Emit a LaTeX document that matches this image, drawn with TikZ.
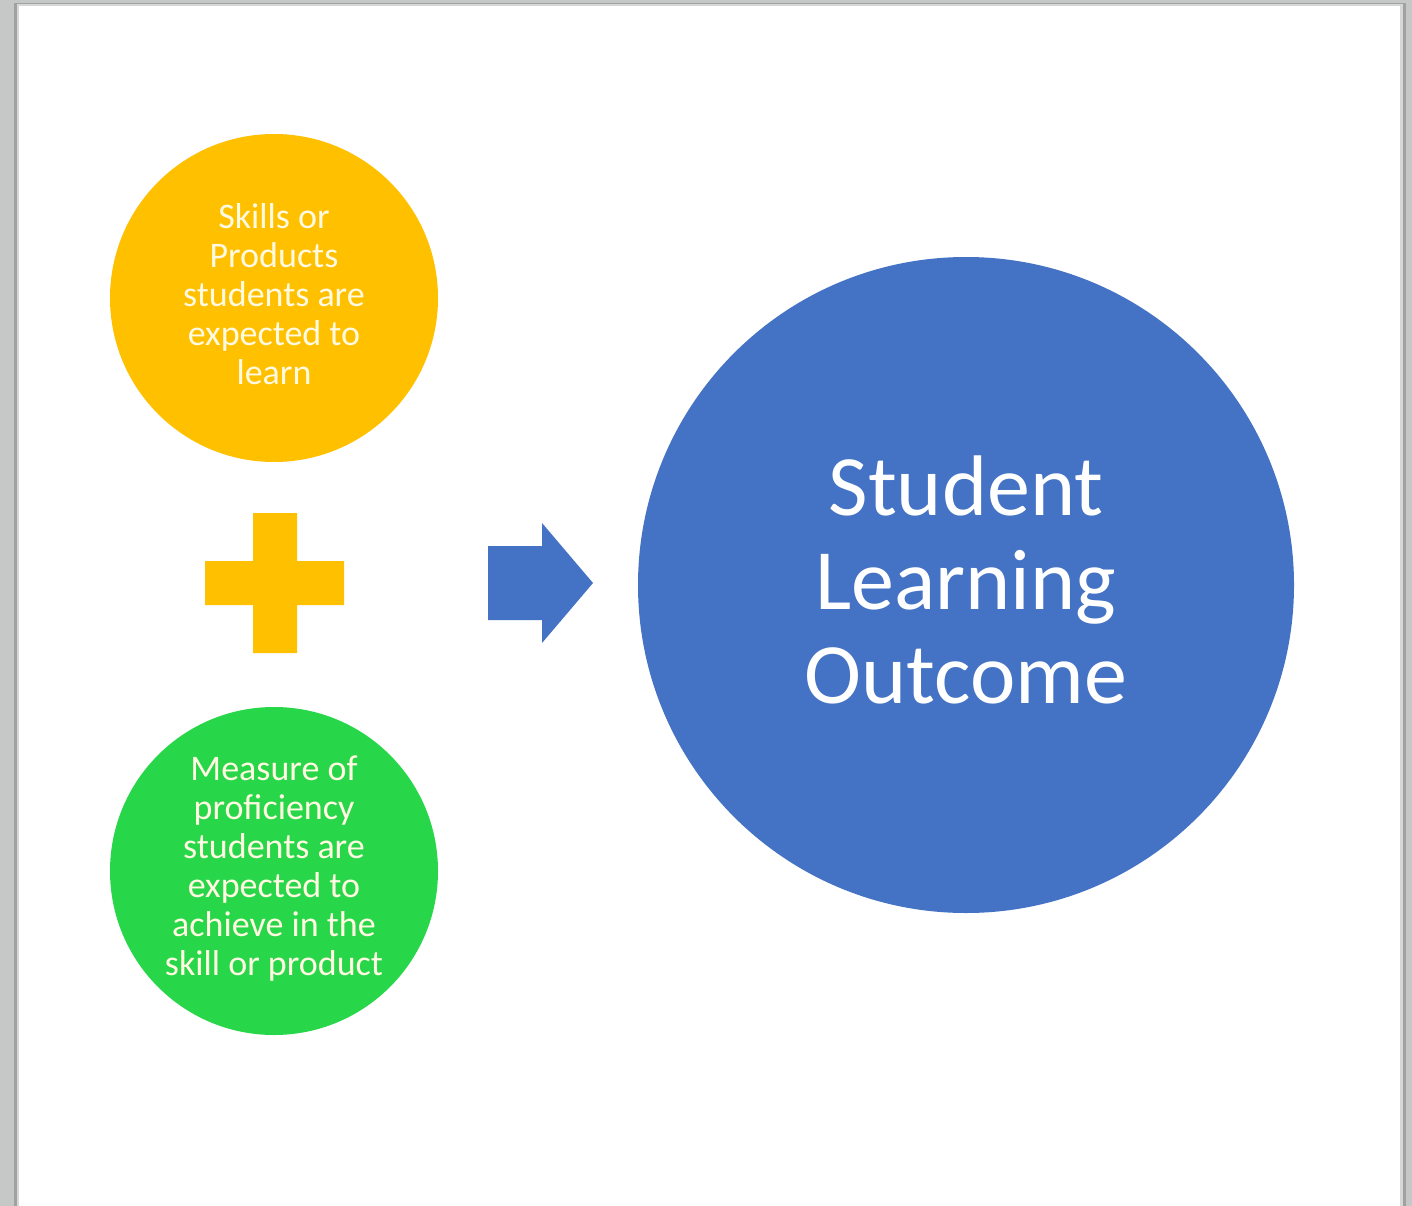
\documentclass[tikz,border=0pt]{standalone}
\usepackage{fontspec}
\setmainfont{Carlito}
\definecolor{bggray}{RGB}{198,200,199}
\definecolor{shadowgray}{RGB}{160,162,161}
\definecolor{edgegray}{RGB}{215,215,215}
\definecolor{orangefill}{RGB}{255,192,0}
\definecolor{greenfill}{RGB}{40,214,74}
\definecolor{bluefill}{RGB}{68,114,196}
\definecolor{paletext}{RGB}{255,250,225}
\tikzset{
  smallcircle/.style={circle, inner sep=0pt, minimum size=328pt},
  bigcircle/.style={circle, inner sep=0pt, minimum size=656pt},
  smalltext/.style={inner sep=0pt, align=center, text=paletext, font=\fontsize{36}{39}\selectfont},
  bigtext/.style={inner sep=0pt, align=center, text=white, font=\fontsize{86}{94}\selectfont},
}
\begin{document}
\begin{tikzpicture}[x=1pt,y=-1pt]
\useasboundingbox (0,0) rectangle (1412,1206);
% background frame
\fill[bggray] (0,0) rectangle (1412,1206);
\fill[shadowgray] (14,3) rectangle (1406,1206);
\fill[edgegray] (17,4) rectangle (1403,1206);
\fill[white] (19,6) rectangle (1400,1206);
% circles
\node[smallcircle, fill=orangefill] (skills) at (274,298) {};
\node[smalltext] (skillstext) at ([yshift=4pt]skills.center)
  {Skills or\\Products\\students are\\expected to\\learn};
\node[smallcircle, fill=greenfill] (measure) at (274,871) {};
\node[smalltext] (measuretext) at ([yshift=2pt]measure.center)
  {Measure of\\proficiency\\students are\\expected to\\achieve in the\\skill or product};
\node[bigcircle, fill=bluefill] (outcome) at (966,585) {};
\node[bigtext] (outcometext) at ([yshift=5pt]outcome.center)
  {Student\\Learning\\Outcome};
% plus sign
\coordinate (plus) at (275,583);
\fill[orangefill] ([shift={(-22,-70)}]plus) -- ([shift={(22,-70)}]plus) -- ([shift={(22,-22)}]plus)
  -- ([shift={(69,-22)}]plus) -- ([shift={(69,22)}]plus) -- ([shift={(22,22)}]plus)
  -- ([shift={(22,70)}]plus) -- ([shift={(-22,70)}]plus) -- ([shift={(-22,22)}]plus)
  -- ([shift={(-70,22)}]plus) -- ([shift={(-70,-22)}]plus) -- ([shift={(-22,-22)}]plus) -- cycle;
% arrow
\coordinate (arrowtip) at (593,583);
\fill[bluefill] ([shift={(-105,-37)}]arrowtip) -- ([shift={(-51,-37)}]arrowtip)
  -- ([shift={(-51,-60)}]arrowtip) -- (arrowtip) -- ([shift={(-51,60)}]arrowtip)
  -- ([shift={(-51,37)}]arrowtip) -- ([shift={(-105,37)}]arrowtip) -- cycle;
\end{tikzpicture}
\end{document}
